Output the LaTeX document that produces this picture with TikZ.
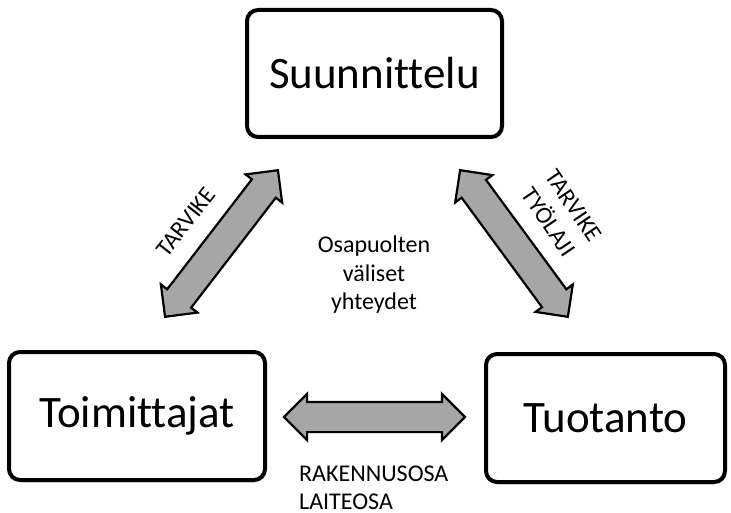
\documentclass[tikz,border=0pt]{standalone}
\usepackage{fontspec}
\setmainfont{Carlito}[Ligatures=NoCommon]
\usetikzlibrary{shapes.arrows,shadows}
\definecolor{arrowgray}{HTML}{A6A6A6}
\tikzset{
  partybox/.style={draw=black, line width=4pt, rounded corners=11pt, fill=white,
    drop shadow={opacity=0.25, shadow xshift=1.5pt, shadow yshift=-2.5pt},
    font=\fontsize{45}{50}\selectfont, inner sep=0pt},
  blockarrow/.style={shape=double arrow, draw=black, line width=2.2pt, fill=arrowgray,
    double arrow head extend=8pt, double arrow tip angle=90, inner xsep=0pt, inner ysep=14pt,
    minimum width=44pt},
  lbl/.style={font=\fontsize{24}{28}\selectfont, align=center, inner sep=0pt}
}
\begin{document}
\begin{tikzpicture}[x=1pt,y=-1pt]
\useasboundingbox (0,0) rectangle (731,513);
\node[partybox, minimum width=255pt, minimum height=127pt] (suun) at (374.5,73.5) {Suunnittelu};
\node[partybox, minimum width=256pt, minimum height=128pt] (toim) at (137,416) {Toimittajat};
\node[partybox, minimum width=239pt, minimum height=128pt] (tuot) at (605.5,418) {Tuotanto};
\node[blockarrow, minimum height=181pt] (ah) at (374.5,417) {};
\node[blockarrow, minimum height=185pt, rotate=52.4] (al) at (221.5,243.5) {};
\node[blockarrow, minimum height=182pt, rotate=-53.7] (ar) at (514,243.5) {};
\node[lbl, rotate=52] (tl) at (186,222) {TARVIKE};
\node[lbl, rotate=-56, font=\fontsize{24}{30}\selectfont] (tr) at (561,214) {TARVIKE\\TYÖLAJI};
\node[lbl, font=\fontsize{24}{28.5}\selectfont] (mid) at (374,275) {Osapuolten\\väliset\\yhteydet};
\node[lbl, anchor=base west] (bot1) at (299,481) {RAKENNUSOSA};
\node[lbl, anchor=base west] (bot2) at (299,509) {LAITEOSA};
\end{tikzpicture}
\end{document}
